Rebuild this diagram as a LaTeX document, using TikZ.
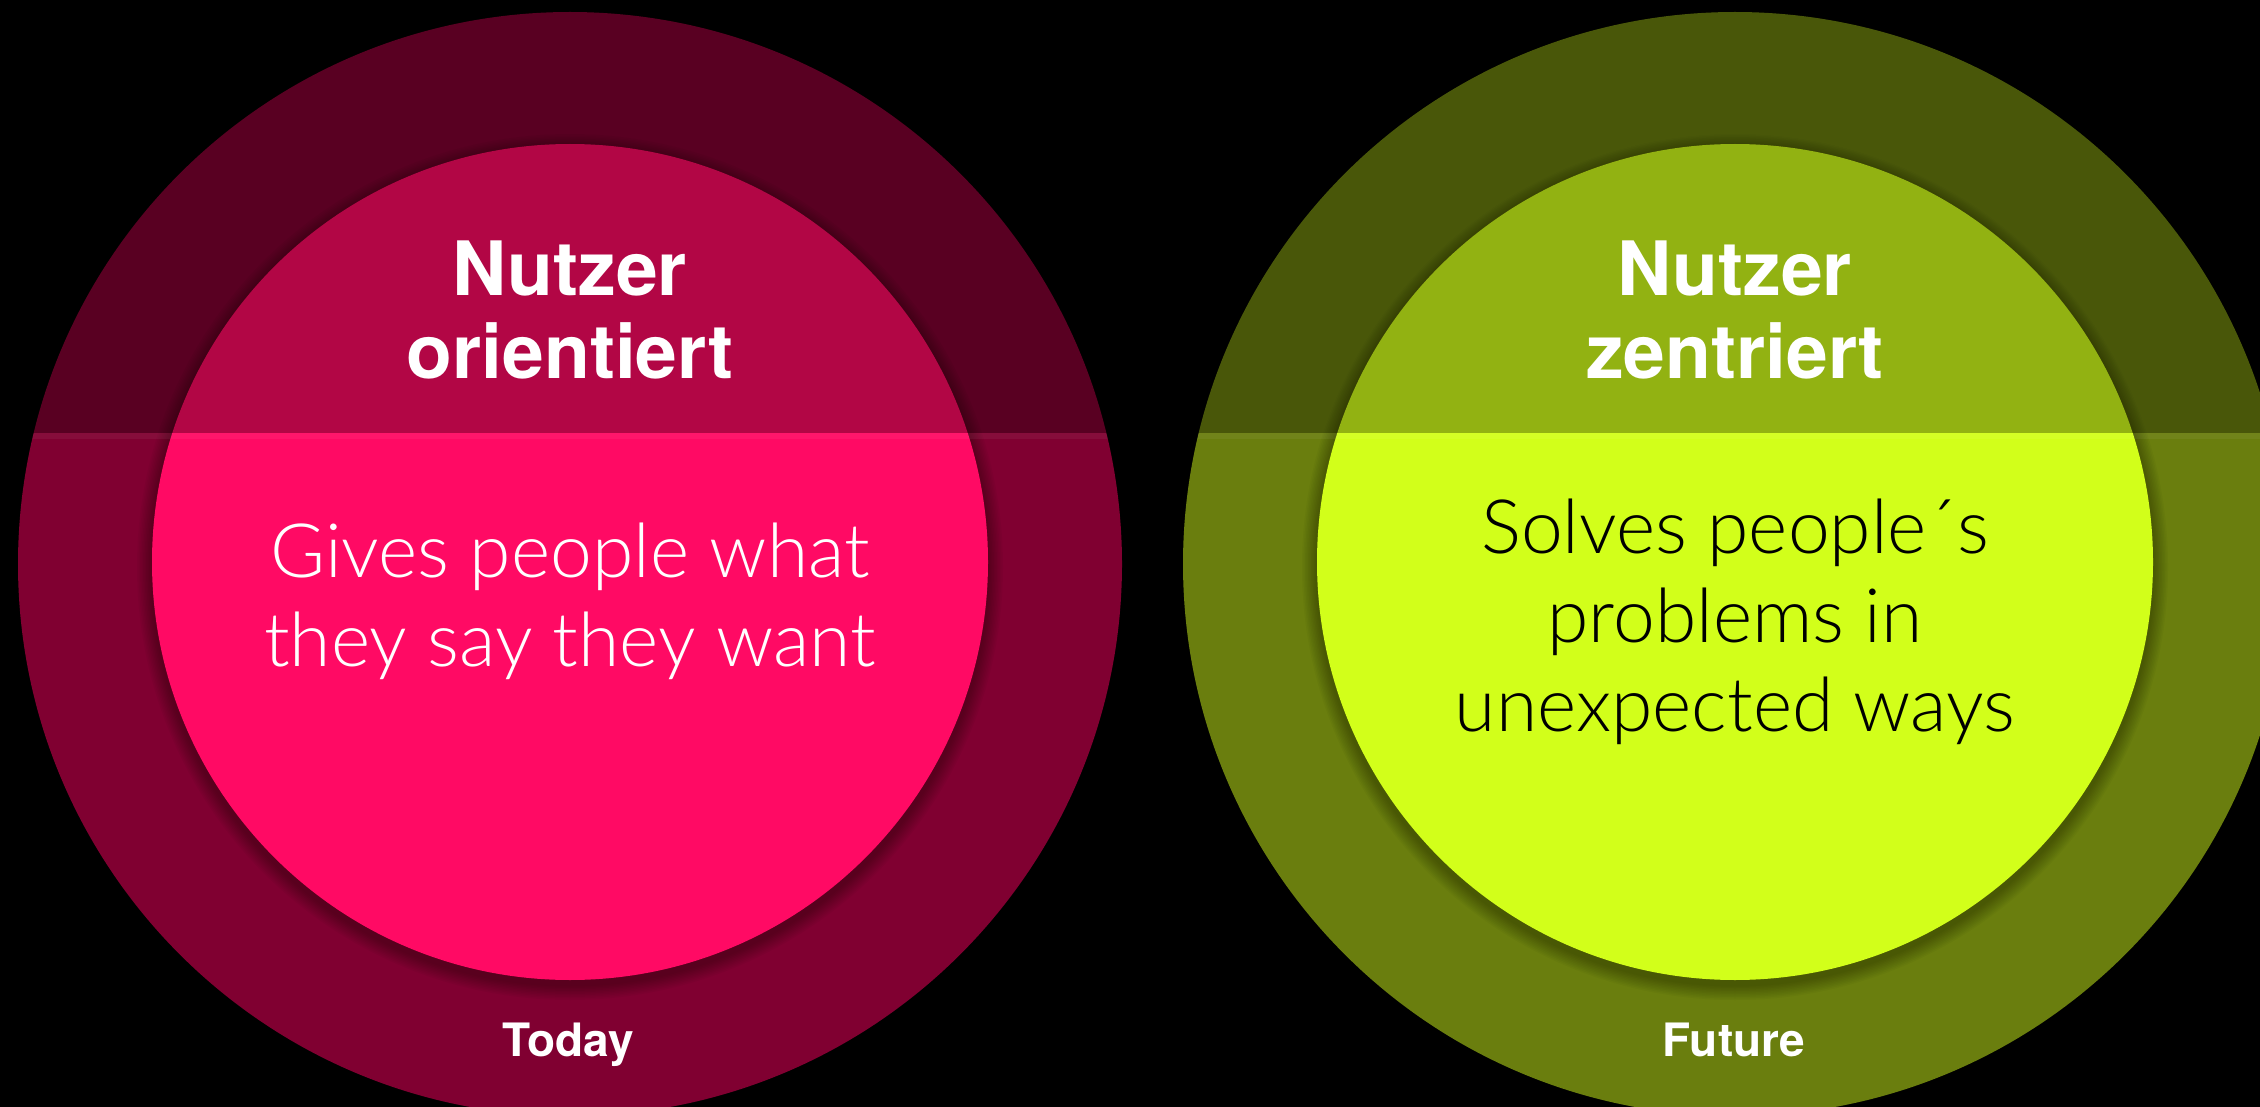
\documentclass[tikz,border=0pt]{standalone}
\usepackage{fontspec}
\setmainfont{TeX Gyre Heros}
\newfontfamily\lightfont{Lato Light}
\definecolor{rosedark}{HTML}{800031}
\definecolor{rosebright}{HTML}{FF0A64}
\definecolor{olivedark}{HTML}{6A7E0E}
\definecolor{limebright}{HTML}{D2FF1A}
\tikzset{
  outerdisc/.style={fill=#1},
  innerdisc/.style={fill=#1},
  headtxt/.style={font=\bfseries\fontsize{75}{83}\selectfont, text=white, align=center, inner sep=0pt, anchor=base},
  bodytxt/.style={font=\lightfont\fontsize{75}{89}\selectfont, align=center, inner sep=0pt, anchor=base},
  foottxt/.style={font=\bfseries\fontsize{46}{50}\selectfont, text=white, inner sep=0pt, anchor=base},
}
\begin{document}
\begin{tikzpicture}[x=1pt,y=-1pt]
\fill[black] (0,0) rectangle (2260,1107);
\useasboundingbox (0,0) rectangle (2260,1107);
\begin{scope}
\clip (0,0) rectangle (2260,1107);
% outer discs
\fill[outerdisc=rosedark] (570,564) circle[radius=552pt];
\fill[outerdisc=olivedark] (1735,564) circle[radius=552pt];
% shadows of inner discs
\foreach \i in {1,...,10}{
  \fill[black, opacity=0.03] (570,567) circle[radius=418pt+\i*1.5pt];
  \fill[black, opacity=0.03] (1735,567) circle[radius=418pt+\i*1.5pt];
}
% inner discs
\fill[innerdisc=rosebright] (570,562) circle[radius=418pt];
\fill[innerdisc=limebright] (1735,562) circle[radius=418pt];
% light line below the band
\begin{scope}
\clip (570,564) circle[radius=552pt] (1735,564) circle[radius=552pt];
\fill[white, opacity=0.05] (0,433) rectangle (2260,439);
\end{scope}
% dark band
\fill[black, opacity=0.3] (0,0) rectangle (2260,433);
\end{scope}
% texts
\node[headtxt] (lhead) at (570,378) {Nutzer\\orientiert};
\node[bodytxt, text=white] (lbody) at (570,666) {Gives people what\\they say they want};
\node[foottxt] (lfoot) at (568,1056) {Today};
\node[headtxt] (rhead) at (1735,378) {Nutzer\\zentriert};
\node[bodytxt, text=black] (rbody) at (1735,731) {Solves people´s\\problems in\\unexpected ways};
\node[foottxt] (rfoot) at (1734,1056) {Future};
\end{tikzpicture}
\end{document}
